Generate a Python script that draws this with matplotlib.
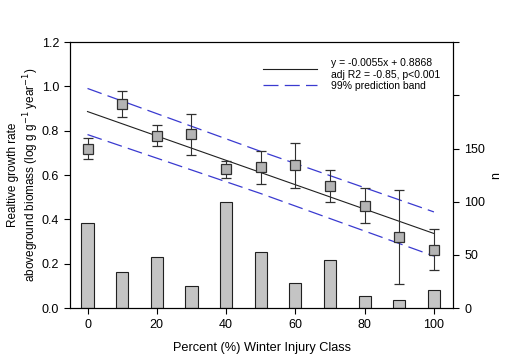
import numpy as np
import matplotlib
matplotlib.use('Agg')
import matplotlib.pyplot as plt

plt.rcParams['font.family'] = ['Liberation Sans', 'DejaVu Sans']

# winter injury classes (%)
injury = [0, 10, 20, 30, 40, 50, 60, 70, 80, 90, 100]
# mean relative growth rate and error bar ends
rgr = [0.720, 0.923, 0.776, 0.785, 0.628, 0.636, 0.644, 0.550, 0.463, 0.322, 0.262]
rgr_hi = [0.768, 0.980, 0.824, 0.878, 0.665, 0.708, 0.743, 0.622, 0.543, 0.534, 0.355]
rgr_lo = [0.673, 0.862, 0.731, 0.689, 0.588, 0.562, 0.544, 0.477, 0.383, 0.107, 0.170]
# sample size per class
n_obs = [80, 34, 48, 21, 100, 53, 24, 45, 11, 8, 17]

# regression and 99% prediction band
fit_x = [0, 100]
slope, intercept = -0.0055, 0.8868
band_x = [0, 50, 100]
band_upper = [0.991, 0.707, 0.434]
band_lower = [0.783, 0.517, 0.235]

fig = plt.figure(figsize=(5.05, 3.6), dpi=100)
ax = fig.add_axes([0.139, 0.144, 0.758, 0.739])
ax2 = ax.twinx()

ax2.bar(injury, n_obs, width=3.5, color='#c4c4c4', edgecolor='#202020', linewidth=0.8)
ax2.set_ylim(0, 250)
ax2.set_yticks([0, 50, 100, 150, 200, 250])
ax2.set_yticklabels(['0', '50', '100', '150', '', ''])
ax2.set_ylabel('n', fontsize=9, labelpad=4)

ax.set_zorder(ax2.get_zorder() + 1)
ax.patch.set_visible(False)

fit_y = [slope * x + intercept for x in fit_x]
ax.plot(fit_x, fit_y, color='#202020', lw=0.8,
        label='y = -0.0055x + 0.8868\nadj R2 = -0.85, p<0.001')
ax.plot(band_x, band_upper, color='#3a3ad0', lw=0.9, dashes=(12, 5),
        label='99% prediction band')
ax.plot(band_x, band_lower, color='#3a3ad0', lw=0.9, dashes=(12, 5))

rgr = np.array(rgr)
yerr = [rgr - np.array(rgr_lo), np.array(rgr_hi) - rgr]
ax.errorbar(injury, rgr, yerr=yerr, fmt='s', ms=7.5, mfc='#b4b4b4', mec='#303030',
            mew=0.9, ecolor='#303030', elinewidth=0.8, capsize=3.5, capthick=0.8)

ax.set_xlim(-5, 105.5)
ax.set_ylim(0, 1.2)
ax.set_xticks([0, 20, 40, 60, 80, 100])
ax.set_yticks(np.arange(0, 1.21, 0.2))
ax.yaxis.set_major_formatter(matplotlib.ticker.FormatStrFormatter('%.1f'))
ax.set_xlabel('Percent (%) Winter Injury Class', fontsize=9.2, labelpad=8)
ax.set_ylabel('Realtive growth rate\naboveground biomass (log g g$^{-1}$ year$^{-1}$)',
              fontsize=8.5, labelpad=0.5)

for a in (ax, ax2):
    a.tick_params(labelsize=9, length=4, width=0.8, direction='out', pad=4)
    for s in a.spines.values():
        s.set_linewidth(0.8)

ax.legend(loc='upper left', bbox_to_anchor=(0.48, 0.975), frameon=False,
          fontsize=7.5, handlelength=5.2, labelspacing=0.1, handletextpad=1.3)

fig.savefig('out.png', dpi=100)
